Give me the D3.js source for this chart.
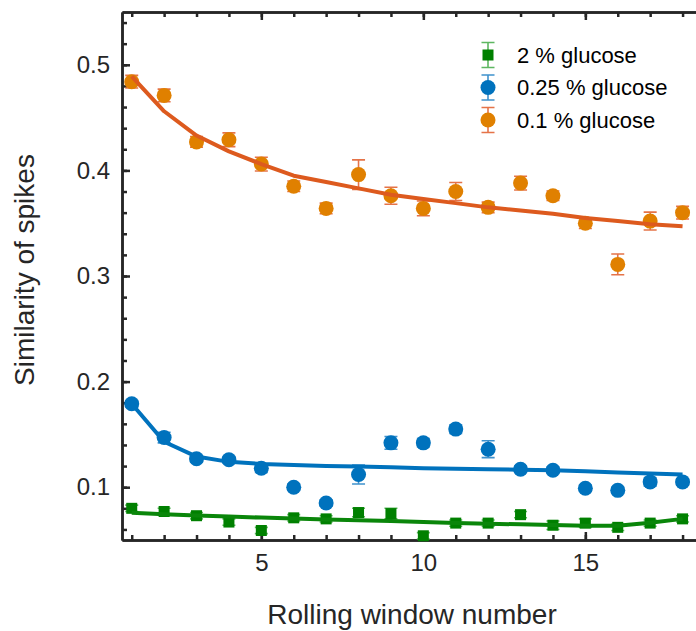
<!DOCTYPE html>
<html>
<head>
<meta charset="utf-8">
<script src="https://cdn.jsdelivr.net/npm/d3@7"></script>
<style>
  body { margin: 0; background: #fff; }
  text { font-family: "Liberation Sans", Arial, sans-serif; fill: #262626; }
</style>
</head>
<body>
<div id="canvas"></div>
<script>
// rolling windows 1..18
const windows = [1, 2, 3, 4, 5, 6, 7, 8, 9, 10, 11, 12, 13, 14, 15, 16, 17, 18];

// 2 % glucose
const meanHigh = [0.080, 0.077, 0.073, 0.067, 0.059, 0.071, 0.070, 0.076, 0.075, 0.054, 0.066, 0.066, 0.074, 0.064, 0.066, 0.062, 0.066, 0.070];
const errHigh  = [0.003, 0.003, 0.003, 0.003, 0.003, 0.003, 0.003, 0.004, 0.005, 0.003, 0.003, 0.003, 0.003, 0.004, 0.004, 0.003, 0.003, 0.003];
const fitHigh  = [0.0757, 0.0745, 0.0733, 0.0722, 0.0712, 0.0703, 0.0695, 0.0687, 0.068, 0.067, 0.0662, 0.0655, 0.0648, 0.0641, 0.0636, 0.0634, 0.0664, 0.070];

// 0.25 % glucose
const meanMid = [0.179, 0.147, 0.127, 0.126, 0.118, 0.100, 0.085, 0.112, 0.142, 0.142, 0.155, 0.136, 0.117, 0.116, 0.099, 0.097, 0.105, 0.105];
const errMid  = [0.003, 0.005, 0.003, 0.003, 0.004, 0.003, 0.003, 0.009, 0.006, 0.004, 0.004, 0.008, 0.003, 0.003, 0.003, 0.003, 0.004, 0.003];
const fitMid  = [0.179, 0.143, 0.129, 0.124, 0.122, 0.121, 0.120, 0.1195, 0.119, 0.118, 0.1175, 0.117, 0.1165, 0.116, 0.115, 0.114, 0.113, 0.112];

// 0.1 % glucose
const meanLow = [0.484, 0.471, 0.427, 0.429, 0.406, 0.385, 0.364, 0.396, 0.376, 0.364, 0.380, 0.365, 0.388, 0.376, 0.350, 0.311, 0.352, 0.360];
const errLow  = [0.006, 0.006, 0.005, 0.0065, 0.0065, 0.005, 0.005, 0.014, 0.008, 0.007, 0.0085, 0.005, 0.0065, 0.0045, 0.005, 0.0098, 0.0085, 0.006];
const fitLow  = [0.489, 0.456, 0.433, 0.418, 0.406, 0.395, 0.389, 0.383, 0.377, 0.373, 0.369, 0.365, 0.362, 0.359, 0.355, 0.352, 0.349, 0.347];

const seriesNames = ["2 % glucose", "0.25 % glucose", "0.1 % glucose"];

const width = 696;
const height = 631;
const margin = { top: 12, right: -6, bottom: 91, left: 122 };

const series = [
    { name: seriesNames[0], mean: meanHigh, err: errHigh, fit: fitHigh, shape: "square",
      fill: "#008000", line: "#0a860a", bar: "#4caf50", barOpacity: 0.9 },
    { name: seriesNames[1], mean: meanMid, err: errMid, fit: fitMid, shape: "circle",
      fill: "#0072bd", line: "#0072bd", bar: "#2a86c8", barOpacity: 0.9 },
    { name: seriesNames[2], mean: meanLow, err: errLow, fit: fitLow, shape: "circle",
      fill: "#e08000", line: "#dd5a1e", bar: "#e05a28", barOpacity: 0.85 }
];

const svg = d3.select("#canvas")
    .append("svg")
    .attr("width", width)
    .attr("height", height)
    .style("background-color", "#fff");

const x = d3.scaleLinear()
    .domain([0.7, 18.6])
    .range([margin.left, width - margin.right]);

const y = d3.scaleLinear()
    .domain([0.05, 0.55])
    .range([height - margin.bottom, margin.top]);

// tick positions
const xMajor = [5, 10, 15];
const xMinor = windows;
const yMajor = [0.1, 0.2, 0.3, 0.4, 0.5];
const yMinor = d3.range(3, 28).map(i => +(i * 0.02).toFixed(2));

const axisColor = "#262626";

function styleAxis(g) {
    g.selectAll("path.domain").attr("stroke", axisColor).attr("stroke-width", 2.5);
    g.selectAll(".tick line").attr("stroke", axisColor).attr("stroke-width", 2.5);
    g.selectAll(".tick text")
        .attr("fill", axisColor)
        .style("font-family", "Liberation Sans, Arial, sans-serif")
        .style("font-size", "24px");
}

// minor ticks (drawn first)
svg.append("g")
    .attr("transform", `translate(0,${y.range()[0]})`)
    .call(d3.axisBottom(x).tickValues(xMinor).tickSize(-5).tickSizeOuter(0).tickFormat(""))
    .call(styleAxis);
svg.append("g")
    .attr("transform", `translate(0,${y.range()[1]})`)
    .call(d3.axisTop(x).tickValues(xMinor).tickSize(-5).tickSizeOuter(0).tickFormat(""))
    .call(styleAxis);
svg.append("g")
    .attr("transform", `translate(${x.range()[0]},0)`)
    .call(d3.axisLeft(y).tickValues(yMinor).tickSize(-5).tickSizeOuter(0).tickFormat(""))
    .call(styleAxis);

// major ticks
svg.append("g")
    .attr("transform", `translate(0,${y.range()[0]})`)
    .call(d3.axisBottom(x).tickValues(xMajor).tickSize(-8).tickSizeOuter(0).tickPadding(14).tickFormat(d3.format("d")))
    .call(styleAxis);
svg.append("g")
    .attr("transform", `translate(0,${y.range()[1]})`)
    .call(d3.axisTop(x).tickValues(xMajor).tickSize(-8).tickSizeOuter(0).tickFormat(""))
    .call(styleAxis);
svg.append("g")
    .attr("transform", `translate(${x.range()[0]},0)`)
    .call(d3.axisLeft(y).tickValues(yMajor).tickSize(-8).tickSizeOuter(0).tickPadding(12).tickFormat(d3.format(".1f")))
    .call(styleAxis);

// axis labels
svg.append("text")
    .attr("x", (x.range()[0] + x.range()[1]) / 2)
    .attr("y", 624)
    .attr("text-anchor", "middle")
    .style("font-size", "28px")
    .text("Rolling window number");

svg.append("text")
    .attr("transform", `translate(34,270) rotate(-90)`)
    .attr("text-anchor", "middle")
    .style("font-size", "28px")
    .text("Similarity of spikes");

const line = d3.line()
    .x(d => x(d.w))
    .y(d => y(d.v));

function drawMarker(g, s, cx, cy) {
    if (s.shape === "square") {
        g.append("rect")
            .attr("x", cx - 5.5).attr("y", cy - 5.5)
            .attr("width", 11).attr("height", 11)
            .attr("fill", s.fill);
    } else {
        g.append("circle")
            .attr("cx", cx).attr("cy", cy).attr("r", 7.5)
            .attr("fill", s.fill);
    }
}

function drawBar(g, s, cx, yTop, yBot, cap) {
    g.append("path")
        .attr("d", `M${cx - cap},${yTop}H${cx + cap}M${cx},${yTop}V${yBot}M${cx - cap},${yBot}H${cx + cap}`)
        .attr("stroke", s.bar)
        .attr("stroke-opacity", s.barOpacity)
        .attr("stroke-width", 1.6)
        .attr("fill", "none");
}

// data: error bars + markers, then fitted lines
series.forEach(s => {
    const g = svg.append("g");
    windows.forEach((w, i) => {
        const cx = x(w);
        drawBar(g, s, cx, y(s.mean[i] + s.err[i]), y(s.mean[i] - s.err[i]), 6.5);
        drawMarker(g, s, cx, y(s.mean[i]));
    });
    svg.append("path")
        .datum(windows.map((w, i) => ({ w: w, v: s.fit[i] })))
        .attr("d", line)
        .attr("fill", "none")
        .attr("stroke", s.line)
        .attr("stroke-width", 4)
        .attr("stroke-linejoin", "round");
});

// legend
const legend = svg.append("g").attr("transform", "translate(488,55)");
series.forEach((s, i) => {
    const row = legend.append("g").attr("transform", `translate(0,${i * 32.5})`);
    drawBar(row, s, 0, -12.5, 12.5, 6.5);
    drawMarker(row, s, 0, 0);
    row.append("text")
        .attr("x", 29)
        .attr("y", 0)
        .attr("dy", "0.35em")
        .style("font-size", "22px")
        .style("fill", "#000")
        .text(s.name);
});
</script>
</body>
</html>
